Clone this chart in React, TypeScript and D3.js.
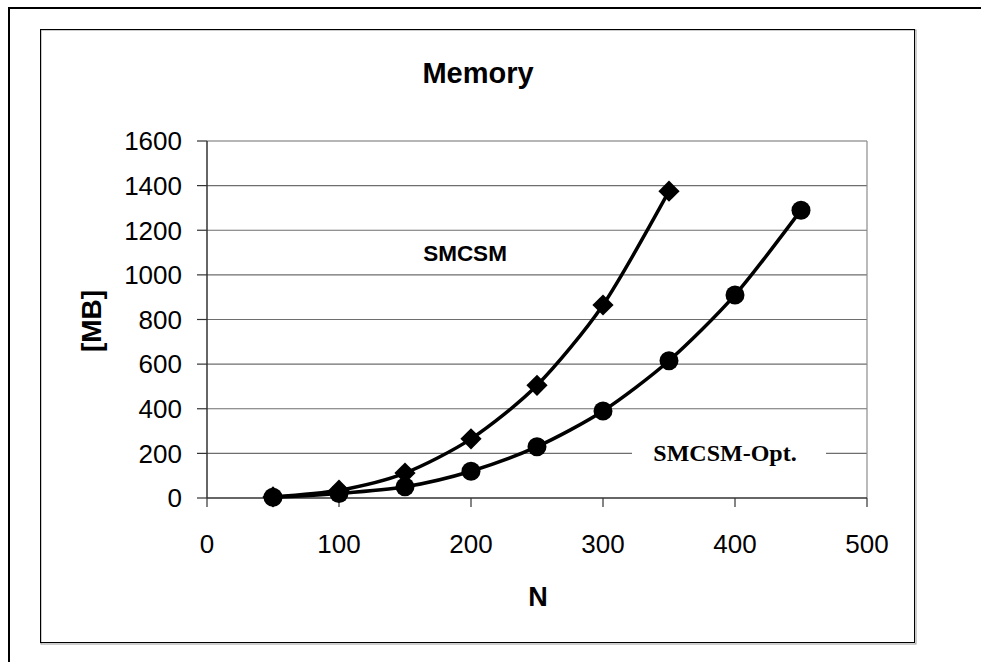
import React from "react";
import * as d3 from "d3";

const nSmcsm = [50, 100, 150, 200, 250, 300, 350];
const memSmcsm = [5, 35, 112, 265, 505, 865, 1375];
const nOpt = [50, 100, 150, 200, 250, 300, 350, 400, 450];
const memOpt = [3, 20, 50, 120, 230, 390, 615, 910, 1290];
const xTicks = [0, 100, 200, 300, 400, 500];
const yTicks = [0, 200, 400, 600, 800, 1000, 1200, 1400, 1600];

const W = 981, H = 662;
const left = 207, right = 867, top = 141, bottom = 498;

export default function App() {
  const x = d3.scaleLinear().domain([0, 500]).range([left, right]);
  const y = d3.scaleLinear().domain([0, 1600]).range([bottom, top]);
  const line = d3
    .line<[number, number]>()
    .x((d) => x(d[0]))
    .y((d) => y(d[1]))
    .curve(d3.curveCardinal.tension(0.2));
  const s1: [number, number][] = nSmcsm.map((n, i) => [n, memSmcsm[i]]);
  const s2: [number, number][] = nOpt.map((n, i) => [n, memOpt[i]]);
  const sans = "'Liberation Sans', Arial, sans-serif";
  const serif = "'Liberation Serif', 'Times New Roman', serif";
  return (
    <svg width={W} height={H} style={{ position: "absolute", left: 0, top: 0, background: "#fff" }}>
      <rect x={0} y={0} width={W} height={H} fill="#fff" />
      {/* outer frame */}
      <rect x={9} y={8} width={W + 20} height={H + 20} fill="none" stroke="#000" strokeWidth={2} />
      {/* inner frame shadow */}
      <rect x={41} y={30} width={875} height={614} fill="none" stroke="#999" strokeWidth={1} />
      <rect x={40.5} y={29.5} width={874} height={613} fill="none" stroke="#000" strokeWidth={1} />
      {/* gridlines */}
      {yTicks.map((t) =>
        t === 0 ? null : (
          <line key={"g" + t} x1={left} x2={right} y1={y(t)} y2={y(t)} stroke="#6e6e6e" strokeWidth={1.2} />
        )
      )}
      {/* right border of plot */}
      <line x1={right} x2={right} y1={top} y2={bottom} stroke="#8c8c8c" strokeWidth={1.2} />
      {/* axes */}
      <line x1={left} x2={left} y1={top} y2={bottom} stroke="#333" strokeWidth={1.5} />
      <line x1={left} x2={right} y1={bottom} y2={bottom} stroke="#333" strokeWidth={1.5} />
      {yTicks.map((t) => (
        <g key={"y" + t}>
          <line x1={left - 10} x2={left} y1={y(t)} y2={y(t)} stroke="#333" strokeWidth={1.2} />
          <text x={182} y={y(t)} dy="0.36em" textAnchor="end" fontFamily={sans} fontSize={26} fill="#000">
            {t}
          </text>
        </g>
      ))}
      {xTicks.map((t) => (
        <g key={"x" + t}>
          <line x1={x(t)} x2={x(t)} y1={bottom} y2={bottom + 9} stroke="#333" strokeWidth={1.2} />
          <text x={x(t)} y={553} textAnchor="middle" fontFamily={sans} fontSize={26} fill="#000">
            {t}
          </text>
        </g>
      ))}
      {/* series */}
      <path d={line(s2) || ""} fill="none" stroke="#000" strokeWidth={3.5} />
      <path d={line(s1) || ""} fill="none" stroke="#000" strokeWidth={3.5} />
      {s2.map((d, i) => (
        <circle key={"c" + i} cx={x(d[0])} cy={y(d[1])} r={9.5} fill="#000" />
      ))}
      {s1.map((d, i) => (
        <rect
          key={"d" + i}
          x={-7.5}
          y={-7.5}
          width={15}
          height={15}
          fill="#000"
          transform={`translate(${x(d[0])},${y(d[1])}) rotate(45)`}
        />
      ))}
      {/* labels */}
      <text x={478} y={83} textAnchor="middle" fontFamily={sans} fontWeight="bold" fontSize={29} fill="#000">
        Memory
      </text>
      <text x={465} y={261} textAnchor="middle" fontFamily={sans} fontWeight="bold" fontSize={22.5} fill="#000">
        SMCSM
      </text>
      <rect x={632} y={436} width={194} height={32} fill="#fff" />
      <text x={725} y={461} textAnchor="middle" fontFamily={serif} fontWeight="bold" fontSize={24} fill="#000">
        SMCSM-Opt.
      </text>
      <text x={538} y={606} textAnchor="middle" fontFamily={sans} fontWeight="bold" fontSize={27} fill="#000">
        N
      </text>
      <text
        transform="translate(101,321) rotate(-90)"
        textAnchor="middle"
        fontFamily={sans}
        fontWeight="bold"
        fontSize={28}
        fill="#000"
      >
        [MB]
      </text>
    </svg>
  );
}
